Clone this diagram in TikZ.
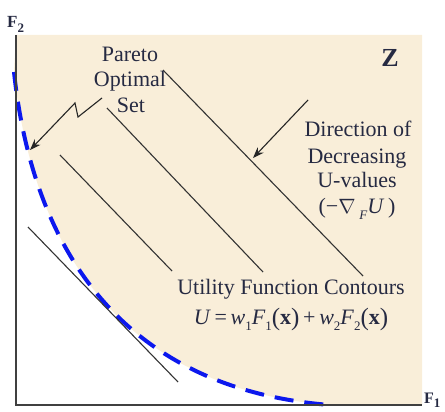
\documentclass[tikz,border=0pt]{standalone}
\usepackage{fontspec}
\setmainfont{Liberation Serif}
\usetikzlibrary{arrows.meta}
\definecolor{beige}{RGB}{249,238,217}
\definecolor{txt}{RGB}{38,42,66}
\definecolor{paretoblue}{RGB}{12,24,238}
\newcommand\lsub[1]{\raisebox{-0.28em}{\fontsize{13}{13}\selectfont #1}}
\newcommand\bpar[1]{{\fontsize{25}{25}\selectfont\raisebox{-0.04em}{#1}}}
\begin{document}
\begin{tikzpicture}[x=1pt,y=-1pt,
  lbl/.style={font=\fontsize{22}{26}\selectfont, text=txt, inner sep=0pt, anchor=base},
  contour/.style={draw=black!80, line width=1.1pt},
  axisline/.style={draw=black!75, line width=1.8pt},
  front/.style={draw=paretoblue, line width=4pt, dash pattern=on 19pt off 11pt},
  ptr/.style={draw=black!85, line width=1.1pt, -{Stealth[length=11pt,width=8pt]}}]
\useasboundingbox (0,0) rectangle (445,412);
% feasible region
\fill[beige] (16,35) -- (422,35) -- (422,405) -- (330,405)
  .. controls (140,390) and (35,270) .. (14,72) -- cycle;
% Pareto front
\draw[front] (14,72) .. controls (35,270) and (140,390) .. (330,405);
% axes
\draw[axisline] (16,35) -- (16,405) -- (422,405);
% contours
\draw[contour] (28,227) -- (178,382);
\draw[contour] (60,155) -- (172,271);
\draw[contour] (107,108) -- (263,272);
\draw[contour] (163,70) -- (363,276);
% labels
\node[lbl] (pareto) at (130,62) {Pareto};
\node[lbl] (optimal) at (130,87) {Optimal};
\node[lbl] (set) at (131,113) {Set};
\node[lbl] (dir1) at (358,136) {Direction of};
\node[lbl] (dir2) at (357,163) {Decreasing};
\node[lbl] (dir3) at (357,187) {U-values};
\node[lbl] (dir4) at (357,213) {(−$\nabla$\,\lsub{\textit{F}}\textit{U}\,)};
\node[lbl] (util) at (291,294) {Utility Function Contours};
\node[lbl] (ueq) at (291,324) {\textit{U}\,=\,\textit{w}\lsub{1}\textit{F}\lsub{1}\bpar{(}\textbf{x}\bpar{)}\,+\,\textit{w}\lsub{2}\textit{F}\lsub{2}\bpar{(}\textbf{x}\bpar{)}};
\node[lbl, font=\fontsize{26}{26}\selectfont\bfseries] (z) at (390,67) {Z};
\node[lbl, anchor=base west, font=\fontsize{17}{17}\selectfont\bfseries] (f2) at (7,28) {F\lsub{2}};
\node[lbl, anchor=base west, font=\fontsize{16}{16}\selectfont\bfseries] (f1) at (424,403) {F\lsub{1}};
% pointers
\coordinate (pz0) at (102,98);
\coordinate (pz1) at (78,117);
\coordinate (pz2) at (75,103);
\coordinate (ptip) at (30,150);
\draw[ptr] (pz0) -- (pz1) -- (pz2) -- (ptip);
\coordinate (d0) at (308,100);
\coordinate (dtip) at (253,158);
\draw[ptr] (d0) -- (dtip);
\end{tikzpicture}
\end{document}
